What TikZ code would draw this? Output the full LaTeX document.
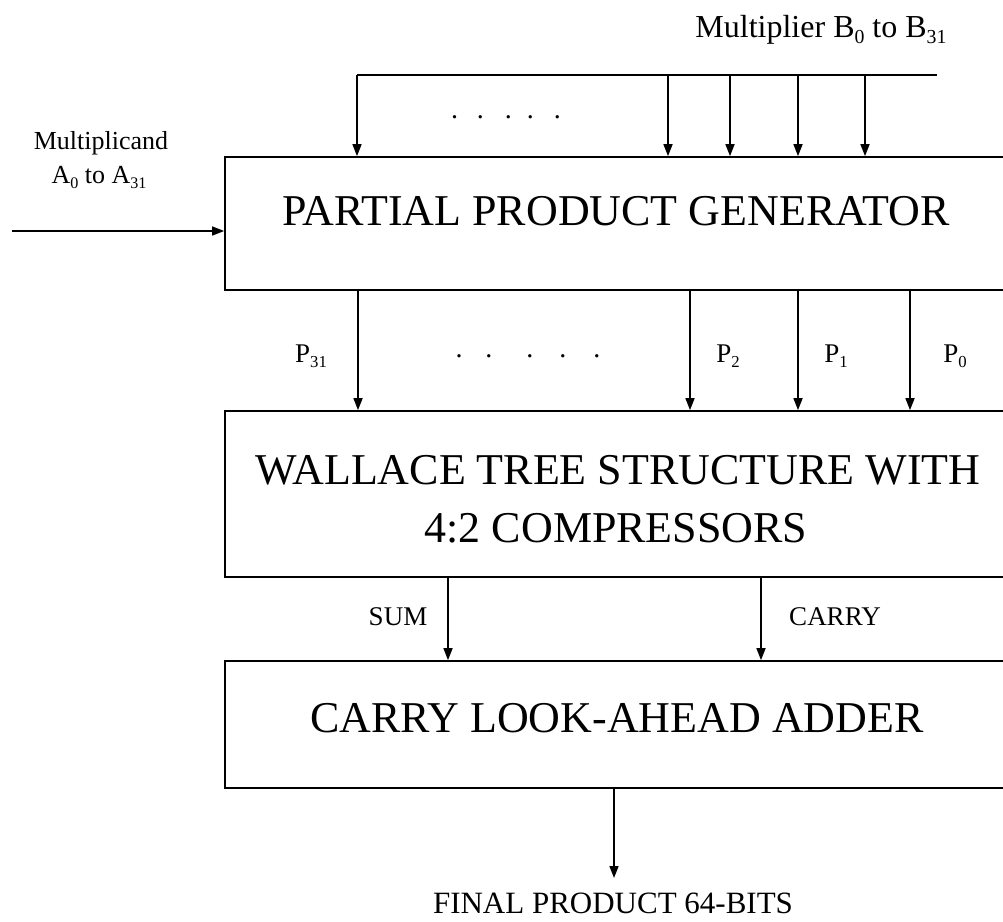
\documentclass[tikz,border=0pt]{standalone}
\usepackage{fontspec}
\setmainfont{Liberation Serif}
\usepackage{graphicx}
\usetikzlibrary{arrows.meta}
% lowered small index, as in A0 or P31
\newcommand\lsub[1]{\raisebox{-0.2em}{\scalebox{0.62}{#1}}}
\begin{document}
\begin{tikzpicture}[x=1pt,y=-1pt,
  block/.style={draw,line width=1.7pt,rectangle,inner sep=0pt,minimum width=782pt},
  txt/.style={inner sep=0pt,anchor=base},
  big/.style={txt,font=\fontsize{44}{52}\selectfont},
  lbl/.style={txt,font=\fontsize{27}{32}\selectfont},
  wire/.style={line width=1.6pt},
  arr/.style={wire,-{Triangle[length=12pt,width=9pt]}}]
\useasboundingbox (0,0) rectangle (1003,921);
\clip (0,0) rectangle (1003,921);

% blocks
\node[block,minimum height=133pt] (ppg) at (616,223.5) {};
\node[block,minimum height=166pt] (wal) at (616,494) {};
\node[block,minimum height=127pt] (cla) at (616,724.5) {};

\node[big] (ppgt) at (616,225) {PARTIAL PRODUCT GENERATOR};
\node[big] (walt1) at (618,484) {WALLACE TREE STRUCTURE WITH};
\node[big] (walt2) at (616,542) {4:2 COMPRESSORS};
\node[big] (clat) at (617,732) {CARRY LOOK-AHEAD ADDER};

% inputs
\node[txt,font=\fontsize{32}{38}\selectfont] (mplier) at (821,37) {Multiplier B\lsub{0} to B\lsub{31}};
\node[txt,font=\fontsize{26}{30}\selectfont] (mcand1) at (101,149) {Multiplicand};
\node[txt,font=\fontsize{26}{30}\selectfont] (mcand2) at (99,183) {A\lsub{0} to A\lsub{31}};

% multiplier bus
\coordinate (b31) at (357,75);
\coordinate (b3) at (668,75);
\coordinate (b2) at (730,75);
\coordinate (b1) at (798,75);
\coordinate (b0) at (865,75);
\coordinate (bend) at (937,75);
\draw[wire] (b31) -- (bend);
\foreach \b in {b31,b3,b2,b1,b0}
  \draw[arr] (\b) -- (\b |- ppg.north);
\node[txt,font=\fontsize{28}{32}\selectfont] (bdots) at (506,118)
  {.\hspace{19pt}.\hspace{21pt}.\hspace{15pt}.\hspace{20pt}.};

% multiplicand input
\coordinate (ain) at (12,231);
\draw[arr] (ain) -- (ain -| ppg.west);

% partial products
\foreach \x/\n in {358/p31,690/p2,798/p1,910/p0}
  \draw[arr] (ppg.south -| \x,0) coordinate (\n) -- (\n |- wal.north);
\node[lbl] (lp31) at (311,362) {P\lsub{31}};
\node[lbl] (lp2) at (728,362) {P\lsub{2}};
\node[lbl] (lp1) at (836,362) {P\lsub{1}};
\node[lbl] (lp0) at (955,362) {P\lsub{0}};
\node[txt,font=\fontsize{28}{32}\selectfont] (pdots) at (528,357)
  {.\hspace{23pt}.\hspace{34pt}.\hspace{26pt}.\hspace{27pt}.};

% sum and carry
\coordinate (s) at (448,0);
\coordinate (c) at (761,0);
\draw[arr] (wal.south -| s) -- (cla.north -| s);
\draw[arr] (wal.south -| c) -- (cla.north -| c);
\node[lbl] (lsum) at (398,625) {SUM};
\node[lbl] (lcarry) at (835,625) {CARRY};

% output
\coordinate (out) at (614,878);
\draw[arr] (cla.south -| out) -- (out);
\node[txt,font=\fontsize{31}{36}\selectfont] (final) at (613,913) {FINAL PRODUCT 64-BITS};
\end{tikzpicture}
\end{document}
